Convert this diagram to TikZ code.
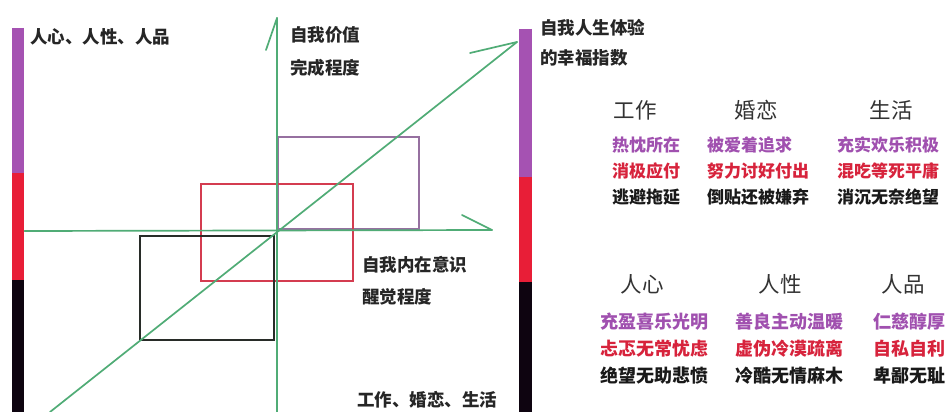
\documentclass[tikz,border=0pt]{standalone}
\usepackage{fontspec}
\newfontfamily\cjk{Noto Sans CJK SC}
\definecolor{axisgreen}{RGB}{80,172,118}
\definecolor{barpurple}{RGB}{165,82,178}
\definecolor{barred}{RGB}{232,30,55}
\definecolor{barblack}{RGB}{14,4,16}
\definecolor{txtpurple}{RGB}{160,80,175}
\definecolor{txtred}{RGB}{215,35,60}
\definecolor{boxpurple}{RGB}{150,112,160}
\definecolor{boxred}{RGB}{212,60,80}
\definecolor{boxblack}{RGB}{40,44,40}
\begin{document}
\begin{tikzpicture}[x=1pt,y=-1pt,
  axis/.style={draw=axisgreen, line width=1.7pt, line cap=round},
  bar/.style={line width=12.5pt},
  frame/.style={line width=1.8pt},
  lbl/.style={font=\cjk\bfseries\fontsize{17.5}{18}\selectfont, anchor=west, inner sep=0pt, text=black!85},
  head/.style={font=\cjk\fontsize{21.5}{22}\selectfont, anchor=center, inner sep=0pt, text=black!80},
  cell/.style={font=\cjk\bfseries\fontsize{17}{17}\selectfont, anchor=west, inner sep=0pt},
  cellb/.style={font=\cjk\bfseries\fontsize{18}{18}\selectfont, anchor=west, inner sep=0pt},
  pu/.style={cell, text=txtpurple},
  rd/.style={cell, text=txtred},
  bk/.style={cell, text=black!90},
  pub/.style={cellb, text=txtpurple},
  rdb/.style={cellb, text=txtred},
  bkb/.style={cellb, text=black!90}]
\useasboundingbox (0,0) rectangle (950,412);
\fill[white] (0,0) rectangle (950,412);

% colour bars
\draw[bar, barpurple] (18,28) -- (18,173);
\draw[bar, barred] (18,173) -- (18,280);
\draw[bar, barblack] (18,280) -- (18,412);
\draw[bar, barpurple] (525.5,29) -- (525.5,177);
\draw[bar, barred] (525.5,177) -- (525.5,282);
\draw[bar, barblack] (525.5,282) -- (525.5,412);

% boxes
\draw[frame, boxpurple] (278,137) rectangle (419,229);
\draw[frame, boxred] (201,184) rectangle (353,281);
\draw[frame, boxblack] (140,236) rectangle (274,340);

% axes
\coordinate (xs) at (24.5,231);
\coordinate (xe) at (492,230);
\coordinate (xb) at (462,215);
\coordinate (ys) at (277,412);
\coordinate (ye) at (277,18);
\coordinate (yb) at (266,50);
\coordinate (ds) at (50,412);
\coordinate (de) at (517,42);
\coordinate (db) at (470,53);
\draw[axis] (xs) -- (xe);
\draw[axis] (xb) -- (xe);
\draw[axis] (ys) -- (ye);
\draw[axis] (yb) -- (ye);
\draw[axis] (ds) -- (de);
\draw[axis] (db) -- (de);

% axis labels
\node[lbl] (l1) at (30,37) {人心、人性、人品};
\node[lbl] (l2a) at (290,35) {自我价值};
\node[lbl] (l2b) at (290,68) {完成程度};
\node[lbl] (l3a) at (540,28) {自我人生体验};
\node[lbl] (l3b) at (540,58) {的幸福指数};
\node[lbl] (l4a) at (362,265) {自我内在意识};
\node[lbl] (l4b) at (362,297) {醒觉程度};
\node[lbl] (l5) at (357,400) {工作、婚恋、生活};

% upper table
\node[head] (h1) at (635,110) {工作};
\node[head] (h2) at (756,110) {婚恋};
\node[head] (h3) at (891,110) {生活};
\node[pu] (a11) at (612,145) {热忱所在};
\node[pu] (a12) at (707,145) {被爱着追求};
\node[pu] (a13) at (837,145) {充实欢乐积极};
\node[rd] (a21) at (612,171) {消极应付};
\node[rd] (a22) at (707,171) {努力讨好付出};
\node[rd] (a23) at (837,171) {混吃等死平庸};
\node[bk] (a31) at (612,197) {逃避拖延};
\node[bk] (a32) at (707,197) {倒贴还被嫌弃};
\node[bk] (a33) at (837,197) {消沉无奈绝望};

% lower table
\node[head] (g1) at (642,284) {人心};
\node[head] (g2) at (780,284) {人性};
\node[head] (g3) at (903,284) {人品};
\node[pub] (b11) at (600,322) {充盈喜乐光明};
\node[pub] (b12) at (735,322) {善良主动温暖};
\node[pub] (b13) at (873,322) {仁慈醇厚};
\node[rdb] (b21) at (600,349) {忐忑无常忧虑};
\node[rdb] (b22) at (735,349) {虚伪冷漠疏离};
\node[rdb] (b23) at (873,349) {自私自利};
\node[bkb] (b31) at (600,376) {绝望无助悲愤};
\node[bkb] (b32) at (735,376) {冷酷无情麻木};
\node[bkb] (b33) at (873,376) {卑鄙无耻};
\end{tikzpicture}
\end{document}
